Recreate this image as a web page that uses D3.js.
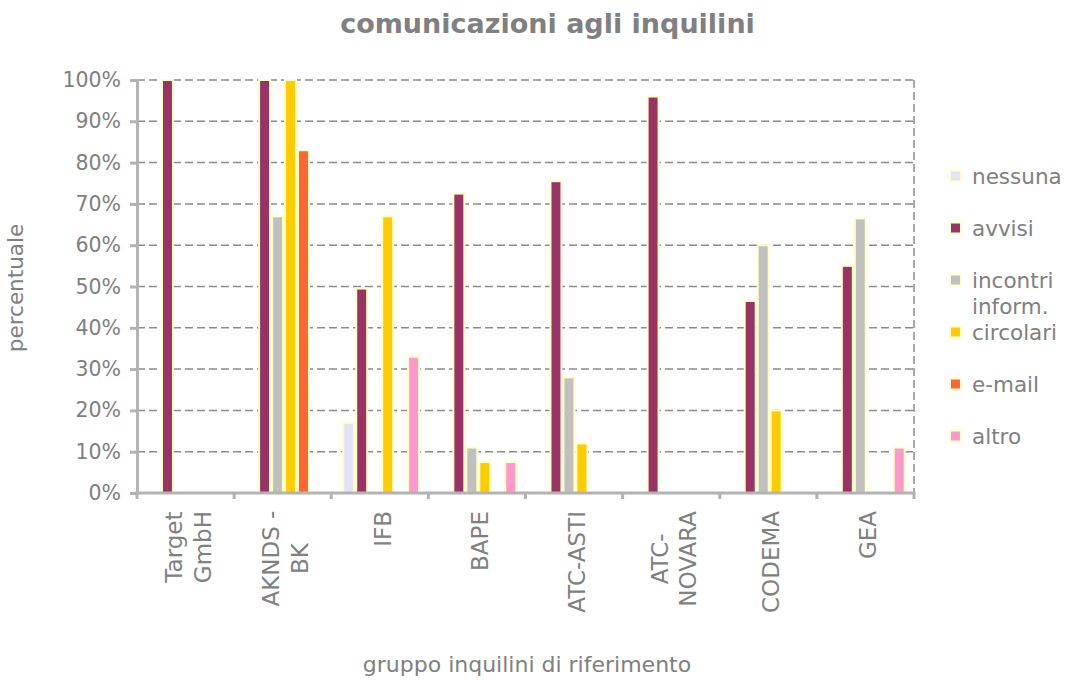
<!DOCTYPE html>
<html>
<head>
<meta charset="utf-8">
<script src="https://cdn.jsdelivr.net/npm/d3@7"></script>
<style>
  html, body { margin: 0; padding: 0; background: #fff; }
  svg { display: block; }
  text { font-family: "DejaVu Sans", Verdana, sans-serif; fill: #808080; }
</style>
</head>
<body>
<svg id="chart" width="1066" height="682"></svg>
<script>
// ---- data ----
const categories = [["Target", "GmbH"], ["AKNDS -", "BK"], ["IFB"], ["BAPE"], ["ATC-ASTI"], ["ATC-", "NOVARA"], ["CODEMA"], ["GEA"]];
const seriesNames = ["nessuna", "avvisi", "incontri inform.", "circolari", "e-mail", "altro"];
const legendLabels = [["nessuna"], ["avvisi"], ["incontri", "inform."], ["circolari"], ["e-mail"], ["altro"]];
const seriesColors = ["#E3E3F8", "#993366", "#C0C0C0", "#FFCC00", "#FF6633", "#FF99CC"];
const nessuna   = [0, 0, 17, 0, 0, 0, 0, 0];
const avvisi    = [100, 100, 49.5, 72.5, 75.5, 96, 46.5, 55];
const incontri  = [0, 67, 0, 11, 28, 0, 60, 66.5];
const circolari = [0, 100, 67, 7.5, 12, 0, 20, 0];
const email     = [0, 83, 0, 0, 0, 0, 0, 0];
const altro     = [0, 0, 33, 7.5, 0, 0, 0, 11];
const seriesValues = [nessuna, avvisi, incontri, circolari, email, altro];
const yTicks = [0, 10, 20, 30, 40, 50, 60, 70, 80, 90, 100];
const title = "comunicazioni agli inquilini";
const yTitle = "percentuale";
const xTitle = "gruppo inquilini di riferimento";

// ---- layout ----
const svg = d3.select("#chart");
const L = 137, R = 914, T = 80, B = 493;
const catIdx = categories.map((d, i) => i);
const x0 = d3.scaleBand().domain(catIdx).range([L, R]).paddingInner(0).paddingOuter(0);
const x1 = d3.scaleBand().domain(d3.range(seriesNames.length)).range([11, x0.bandwidth() - 8.3]).padding(0);
const y = d3.scaleLinear().domain([0, 100]).range([B, T]);
const axisColor = "#B3B3B3";

// gridlines
svg.append("g").selectAll("line").data(yTicks.filter(t => t > 0)).join("line")
  .attr("x1", L).attr("x2", R)
  .attr("y1", d => y(d)).attr("y2", d => y(d))
  .attr("stroke", "#8C8C8C").attr("stroke-width", 1.5)
  .attr("stroke-dasharray", "8,4");
// right border
svg.append("line").attr("x1", R).attr("x2", R).attr("y1", y(100)).attr("y2", y(0))
  .attr("stroke", "#8C8C8C").attr("stroke-width", 1.5).attr("stroke-dasharray", "8,4");

// bars
const groups = svg.append("g").selectAll("g").data(catIdx).join("g")
  .attr("transform", d => `translate(${x0(d)},0)`);
groups.selectAll("rect")
  .data(ci => seriesValues.map((vals, si) => ({ si, v: vals[ci] })).filter(d => d.v > 0))
  .join("rect")
  .attr("x", d => x1(d.si) + 1)
  .attr("width", x1.bandwidth() - 2)
  .attr("y", d => y(d.v))
  .attr("height", d => y(0) - y(d.v))
  .attr("fill", d => seriesColors[d.si])
  .attr("stroke", "#FFFFC8").attr("stroke-width", 2);

// y axis
const yAxis = svg.append("g").attr("transform", `translate(${L},0)`)
  .call(d3.axisLeft(y).tickValues(yTicks).tickFormat(d => d + "%").tickSize(7).tickPadding(9));
yAxis.select(".domain").attr("stroke", axisColor).attr("stroke-width", 3);
yAxis.selectAll(".tick line").attr("stroke", axisColor).attr("stroke-width", 3);
yAxis.selectAll(".tick text").attr("font-size", 20.5).attr("fill", "#808080")
  .style("font-family", '"DejaVu Sans", Verdana, sans-serif');

// x axis line + boundary ticks
svg.append("line").attr("x1", L - 1.5).attr("x2", R + 1.5).attr("y1", B).attr("y2", B)
  .attr("stroke", axisColor).attr("stroke-width", 3);
const boundaries = catIdx.map(i => x0(i)).concat([R]);
svg.append("g").selectAll("line").data(boundaries).join("line")
  .attr("x1", d => d).attr("x2", d => d).attr("y1", B).attr("y2", B + 6)
  .attr("stroke", axisColor).attr("stroke-width", 3);

// x labels (rotated, multi-line centered)
const xlab = svg.append("g").selectAll("g").data(catIdx).join("g");
xlab.each(function (ci) {
  const g = d3.select(this);
  const lines = categories[ci];
  const cx = x0(ci) + x0.bandwidth() / 2;
  const t = g.append("text").attr("font-size", 23).attr("text-anchor", "middle");
  lines.forEach((ln, li) => t.append("tspan").text(ln));
  let W = 0;
  t.selectAll("tspan").each(function () { W = Math.max(W, this.getComputedTextLength()); });
  const n = lines.length;
  t.selectAll("tspan").attr("x", -(W / 2)).attr("y", (d, li) => 0);
  t.selectAll("tspan").each(function (d, li) {
    d3.select(this).attr("y", 11 + (li - (n - 1) / 2) * 28.5);
  });
  g.attr("transform", `translate(${cx},${511}) rotate(-90)`);
});

// title
svg.append("text").attr("x", 547.5).attr("y", 33).attr("text-anchor", "middle")
  .attr("font-size", 27).attr("font-weight", "bold").text(title);
// axis titles
svg.append("text").attr("transform", `translate(23,288) rotate(-90)`).attr("text-anchor", "middle")
  .attr("font-size", 21.5).text(yTitle);
svg.append("text").attr("x", 527).attr("y", 672).attr("text-anchor", "middle")
  .attr("font-size", 22).text(xTitle);

// legend
const leg = svg.append("g").selectAll("g").data(d3.range(seriesNames.length)).join("g")
  .attr("transform", i => `translate(949,${176 + i * 52})`);
leg.append("rect").attr("x", 1).attr("y", -5.5).attr("width", 11).attr("height", 11)
  .attr("fill", i => seriesColors[i]).attr("stroke", "#FFFFC8").attr("stroke-width", 2);
leg.each(function (i) {
  const t = d3.select(this).append("text").attr("font-size", 21.5).attr("x", 23).attr("y", 7.5);
  legendLabels[i].forEach((ln, li) => t.append("tspan").attr("x", 23).attr("dy", li === 0 ? 0 : 26).text(ln));
});
</script>
</body>
</html>
